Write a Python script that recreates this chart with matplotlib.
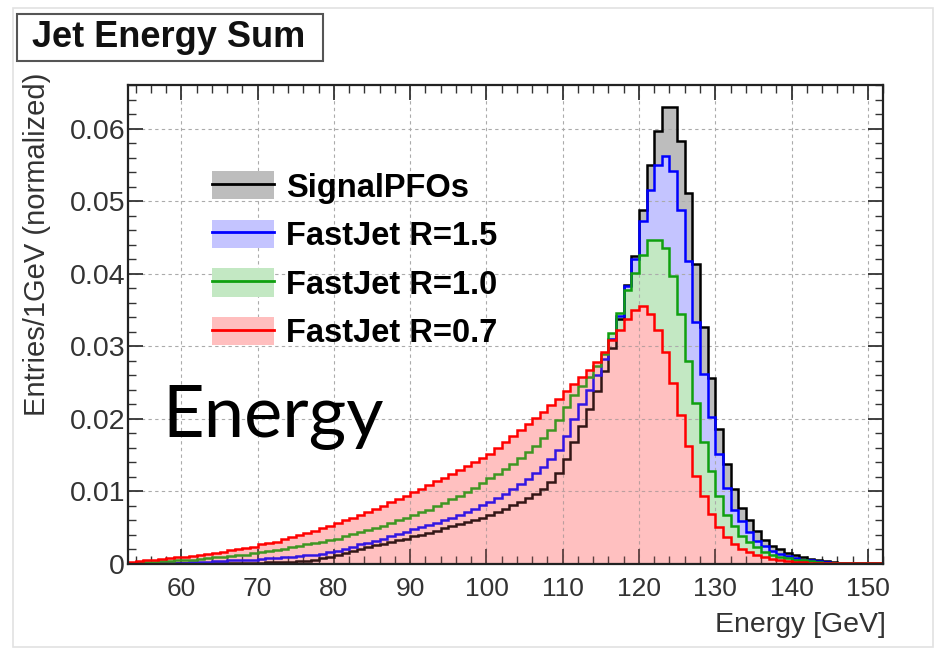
import matplotlib.pyplot as plt
import numpy as np
from matplotlib.patches import Patch, Rectangle
from matplotlib.lines import Line2D
from matplotlib.ticker import MultipleLocator, FixedLocator, FixedFormatter

# Data: 1 GeV bins, lower edges 53 ... 151
bin_edges = np.arange(53, 153, 1)

signal_pfos = [
    0.0001, 0.0001, 0.0001, 0.0001, 0.0001, 0.0001, 0.0001,
    0.0001, 0.0001, 0.0001, 0.0001, 0.0001, 0.0002, 0.0002, 0.0002, 0.0002, 0.0002,
    0.0002, 0.0003, 0.0003, 0.0003, 0.0003, 0.0004, 0.0004, 0.0005, 0.0008, 0.0010,
    0.0012, 0.0015, 0.0018, 0.0021, 0.0023, 0.0026, 0.0028, 0.0030, 0.0033, 0.0035,
    0.0038, 0.0040, 0.0043, 0.0046, 0.0049, 0.0052, 0.0055, 0.0058, 0.0061, 0.0064,
    0.0068, 0.0072, 0.0076, 0.0081, 0.0086, 0.0091, 0.0097, 0.0104, 0.0113, 0.0125,
    0.0144, 0.0168, 0.0190, 0.0213, 0.0238, 0.0266, 0.0298, 0.0338, 0.0385, 0.0424,
    0.0488, 0.0550, 0.0596, 0.0630, 0.0630, 0.0583, 0.0511, 0.0413, 0.0326, 0.0256,
    0.0186, 0.0138, 0.0103, 0.0077, 0.0060, 0.0045, 0.0033, 0.0025, 0.0020, 0.0015,
    0.0012, 0.0009, 0.0007, 0.0005, 0.0004, 0.0003, 0.0002, 0.0002, 0.0001, 0.0001, 0.0001, 0.0001,
]
fastjet_15 = [
    0.0001, 0.0001, 0.0001, 0.0001, 0.0002, 0.0002, 0.0002,
    0.0002, 0.0003, 0.0003, 0.0003, 0.0004, 0.0004, 0.0005, 0.0005, 0.0006, 0.0006,
    0.0007, 0.0008, 0.0008, 0.0009, 0.0010, 0.0011, 0.0012, 0.0013, 0.0014, 0.0016,
    0.0018, 0.0021, 0.0024, 0.0027, 0.0029, 0.0032, 0.0035, 0.0038, 0.0041, 0.0044,
    0.0048, 0.0051, 0.0054, 0.0057, 0.0061, 0.0064, 0.0068, 0.0072, 0.0076, 0.0081,
    0.0086, 0.0091, 0.0097, 0.0103, 0.0110, 0.0117, 0.0125, 0.0134, 0.0144, 0.0157,
    0.0176, 0.0200, 0.0220, 0.0240, 0.0260, 0.0283, 0.0310, 0.0342, 0.0383, 0.0420,
    0.0472, 0.0516, 0.0550, 0.0562, 0.0541, 0.0488, 0.0417, 0.0333, 0.0262, 0.0202,
    0.0152, 0.0105, 0.0075, 0.0059, 0.0044, 0.0032, 0.0025, 0.0018, 0.0014, 0.0011,
    0.0008, 0.0006, 0.0005, 0.0004, 0.0003, 0.0002, 0.0002, 0.0001, 0.0001, 0.0001, 0.0001, 0.0001,
]
fastjet_10 = [
    0.0002, 0.0002, 0.0003, 0.0003, 0.0004, 0.0004, 0.0005,
    0.0005, 0.0006, 0.0007, 0.0008, 0.0009, 0.0010, 0.0011, 0.0012, 0.0013, 0.0015,
    0.0016, 0.0018, 0.0019, 0.0021, 0.0023, 0.0025, 0.0027, 0.0029, 0.0031, 0.0033,
    0.0035, 0.0038, 0.0041, 0.0044, 0.0047, 0.0050, 0.0053, 0.0056, 0.0060, 0.0063,
    0.0067, 0.0071, 0.0075, 0.0080, 0.0084, 0.0089, 0.0094, 0.0099, 0.0105, 0.0111,
    0.0118, 0.0124, 0.0131, 0.0138, 0.0146, 0.0154, 0.0163, 0.0173, 0.0184, 0.0198,
    0.0216, 0.0233, 0.0245, 0.0258, 0.0273, 0.0290, 0.0318, 0.0346, 0.0378, 0.0401,
    0.0426, 0.0446, 0.0447, 0.0436, 0.0397, 0.0344, 0.0280, 0.0222, 0.0168, 0.0128,
    0.0094, 0.0068, 0.0052, 0.0039, 0.0030, 0.0023, 0.0017, 0.0013, 0.0010, 0.0008,
    0.0006, 0.0005, 0.0004, 0.0003, 0.0002, 0.0002, 0.0001, 0.0001, 0.0001, 0.0001, 0.0001, 0.0001,
]
fastjet_07 = [
    0.0003, 0.0004, 0.0005, 0.0006, 0.0007, 0.0008, 0.0009,
    0.0010, 0.0011, 0.0012, 0.0014, 0.0015, 0.0017, 0.0019, 0.0020, 0.0022, 0.0024,
    0.0027, 0.0029, 0.0031, 0.0034, 0.0037, 0.0040, 0.0043, 0.0046, 0.0049, 0.0053,
    0.0056, 0.0060, 0.0064, 0.0068, 0.0072, 0.0076, 0.0080, 0.0085, 0.0089, 0.0094,
    0.0099, 0.0104, 0.0109, 0.0114, 0.0119, 0.0124, 0.0130, 0.0135, 0.0141, 0.0146,
    0.0152, 0.0160, 0.0168, 0.0176, 0.0184, 0.0193, 0.0201, 0.0210, 0.0219, 0.0228,
    0.0238, 0.0248, 0.0258, 0.0268, 0.0279, 0.0292, 0.0308, 0.0322, 0.0337, 0.0350,
    0.0356, 0.0345, 0.0323, 0.0292, 0.0250, 0.0206, 0.0163, 0.0121, 0.0094, 0.0069,
    0.0051, 0.0037, 0.0028, 0.0021, 0.0016, 0.0012, 0.0009, 0.0007, 0.0005, 0.0004,
    0.0003, 0.0003, 0.0002, 0.0002, 0.0002, 0.0001, 0.0001, 0.0001, 0.0001, 0.0001, 0.0001, 0.0001,
]

labels = ['SignalPFOs', 'FastJet R=1.5', 'FastJet R=1.0', 'FastJet R=0.7']
xticks = [60, 70, 80, 90, 100, 110, 120, 130, 140, 150]
yticks = [0, 0.01, 0.02, 0.03, 0.04, 0.05, 0.06]
ytick_labels = ['0', '0.01', '0.02', '0.03', '0.04', '0.05', '0.06']

line_colors = ['black', '#0000ff', '#10a010', '#ff0000']
fill_colors = ['#bdbdbd', '#c4c4ff', '#c3e8c3', '#ffd4d4']

plt.rcParams['font.family'] = ['Liberation Sans', 'DejaVu Sans']

fig = plt.figure(figsize=(9.39, 6.5), dpi=100)
ax = fig.add_axes([0.1363, 0.1323, 0.8041, 0.7369])

series = [signal_pfos, fastjet_15, fastjet_10, fastjet_07]

# fills first (opaque), drawn in order
for vals, fc in zip(series, fill_colors):
    ax.stairs(vals, bin_edges, fill=True, facecolor=fc, edgecolor='none', zorder=1)

# outlines of the first three
for vals, lc in zip(series[:3], line_colors[:3]):
    ax.stairs(vals, bin_edges, color=lc, lw=1.8, zorder=3)

# translucent red fill tints what lies beneath it
ax.stairs(fastjet_07, bin_edges, fill=True, facecolor='#ff7070', alpha=0.2,
          edgecolor='none', zorder=4)
ax.stairs(fastjet_07, bin_edges, color=line_colors[3], lw=1.8, zorder=5)

ax.set_xlim(53, 152)
ax.set_ylim(0, 0.066)

ax.grid(True, which='major', linestyle=(0, (3, 3)), color='#ababab', lw=0.8, zorder=2)
ax.set_axisbelow(False)

ax.xaxis.set_major_locator(FixedLocator(xticks))
ax.xaxis.set_minor_locator(MultipleLocator(2))
ax.yaxis.set_major_locator(FixedLocator(yticks))
ax.yaxis.set_major_formatter(FixedFormatter(ytick_labels))
ax.yaxis.set_minor_locator(MultipleLocator(0.002))
ax.tick_params(which='both', direction='in', top=True, right=True, colors='#333333')
ax.tick_params(axis='x', labelsize=19)
ax.tick_params(axis='y', labelsize=20.5)
ax.tick_params(which='major', length=11, width=1.3)
ax.tick_params(which='minor', length=5.5, width=1.0)
ax.tick_params(axis='x', which='major', pad=9)
ax.tick_params(axis='y', which='major', pad=2)
for sp in ax.spines.values():
    sp.set_linewidth(1.6)
    sp.set_color('#222222')
    sp.set_zorder(6)

handles = [(Patch(facecolor=fc if i < 3 else '#ffbebe', edgecolor='none'),
            Line2D([], [], color=lc, lw=2))
           for i, (fc, lc) in enumerate(zip(fill_colors, line_colors))]
ax.legend(handles, labels, loc='upper left', bbox_to_anchor=(0.111, 0.82),
          frameon=False, borderpad=0, borderaxespad=0,
          prop=dict(weight='bold', size=23.5), handlelength=1.9, handleheight=0.95,
          labelspacing=0.5, handletextpad=0.36)

fig.text(37 / 939, 1 - 244 / 650, 'Entries/1GeV (normalized)', rotation=90,
         ha='center', va='center', fontsize=21, color='#333333')
fig.text(886 / 939, 1 - 632 / 650, 'Energy [GeV]', ha='right', va='baseline',
         fontsize=20.5, color='#333333')

# title box
fig.patches.append(Rectangle((17 / 939, 1 - 61 / 650), 306 / 939, 47 / 650,
                             transform=fig.transFigure, facecolor='white',
                             edgecolor='#555555', lw=1.5))
fig.text(32 / 939, 1 - 47 / 650, 'Jet Energy Sum', ha='left', va='baseline',
         fontsize=26, fontweight='bold', color='#111111')

# faint outer frame of the pasted picture
fig.patches.append(Rectangle((13 / 939, 3 / 650), 920 / 939, 639 / 650,
                             transform=fig.transFigure, facecolor='none',
                             edgecolor='#e2e2e2', lw=1.2, zorder=0))

fig.text(162 / 939, 1 - 437 / 650, 'Energy', ha='left', va='baseline',
         fontsize=52, family=['Lato', 'DejaVu Sans'], color='black')

fig.savefig('out.png', dpi=100)
